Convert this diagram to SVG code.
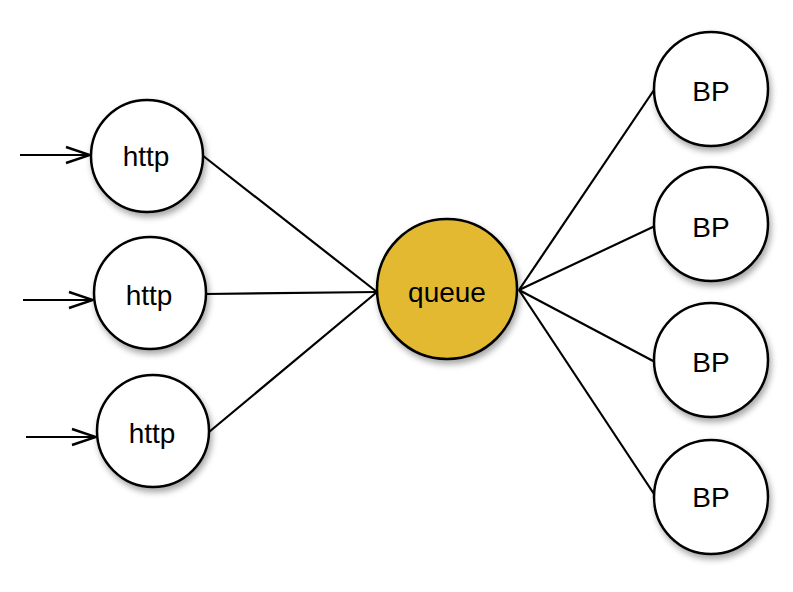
<svg xmlns="http://www.w3.org/2000/svg" width="793" height="592" viewBox="0 0 793 592">
<defs>
<style>
.node{fill:#fff;stroke:#000;stroke-width:2.5}
.q{fill:#e3b932;stroke:#000;stroke-width:2.5}
.lbl{font-family:"Liberation Sans",Arial,sans-serif;font-size:28px;fill:#000;text-anchor:middle}
.edge{stroke:#000;stroke-width:2.2;fill:none}
</style>
<filter id="sh" x="-20%" y="-20%" width="150%" height="150%">
<feDropShadow dx="2" dy="4" stdDeviation="3" flood-color="#000" flood-opacity="0.35"/>
</filter>
<marker id="arr" markerWidth="28" markerHeight="22" refX="26" refY="11" orient="auto" markerUnits="userSpaceOnUse">
<path d="M2,3 L26,11 L2,19" fill="none" stroke="#000" stroke-width="2.4"/>
</marker>
</defs>
<rect width="793" height="592" fill="#fff"/>
<g id="connectors">
<line class="edge" x1="20" y1="155" x2="90" y2="155" marker-end="url(#arr)"/>
<line class="edge" x1="23" y1="300" x2="93" y2="300" marker-end="url(#arr)"/>
<line class="edge" x1="26" y1="437" x2="96" y2="437" marker-end="url(#arr)"/>
<line class="edge" x1="202" y1="155" x2="377" y2="292"/>
<line class="edge" x1="206" y1="294" x2="377" y2="292"/>
<line class="edge" x1="209" y1="432" x2="377" y2="292"/>
<line class="edge" x1="519" y1="290" x2="656" y2="87"/>
<line class="edge" x1="519" y1="290" x2="655" y2="226"/>
<line class="edge" x1="519" y1="290" x2="655" y2="362"/>
<line class="edge" x1="519" y1="290" x2="656" y2="497"/>
</g>
<g id="http1"><circle class="node" cx="147" cy="156" r="56" filter="url(#sh)"/><text class="lbl" x="146" y="166">http</text></g>
<g id="http2"><circle class="node" cx="150" cy="293" r="56" filter="url(#sh)"/><text class="lbl" x="149" y="305">http</text></g>
<g id="http3"><circle class="node" cx="153" cy="431" r="56" filter="url(#sh)"/><text class="lbl" x="152" y="443">http</text></g>
<g id="queue"><circle class="q" cx="447" cy="289" r="70" filter="url(#sh)"/><text class="lbl" x="447" y="302">queue</text></g>
<g id="bp1"><circle class="node" cx="711" cy="89" r="57" filter="url(#sh)"/><text class="lbl" x="711" y="101">BP</text></g>
<g id="bp2"><circle class="node" cx="711" cy="224" r="57" filter="url(#sh)"/><text class="lbl" x="711" y="237">BP</text></g>
<g id="bp3"><circle class="node" cx="711" cy="360" r="57" filter="url(#sh)"/><text class="lbl" x="711" y="372">BP</text></g>
<g id="bp4"><circle class="node" cx="711" cy="497" r="57" filter="url(#sh)"/><text class="lbl" x="711" y="507">BP</text></g>
</svg>
